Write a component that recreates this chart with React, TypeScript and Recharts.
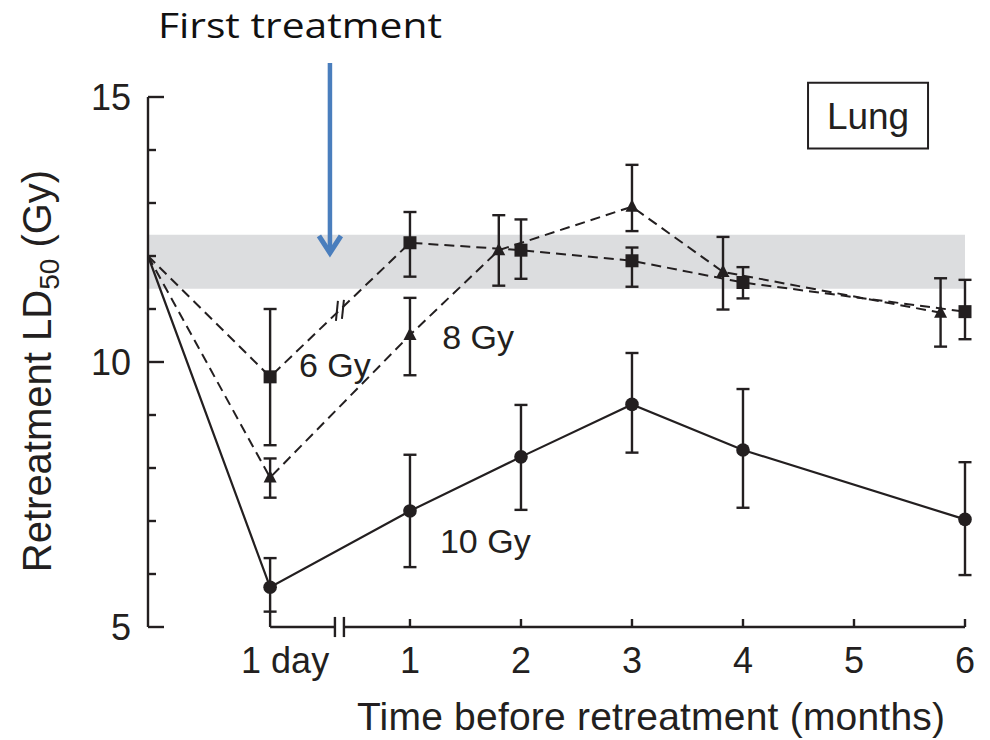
import React from 'react';
import {
  ComposedChart,
  Scatter,
  XAxis,
  YAxis,
  ErrorBar,
  ReferenceArea,
  ReferenceLine,
  ReferenceDot,
} from 'recharts';

// ---- axis positions (months; the axis is broken between "1 day" and month 1) ----
const X_ORIGIN = -1.36; // position of the y axis (time of first treatment)
const X_DAY = -0.26; // "1 day" position
const X_BREAK_A = 0.324; // axis break, left side
const X_BREAK_B = 0.405; // axis break, right side
const X_LINE_BREAK = 0.369; // break marks on the 6 Gy curve
const X_ARROW = 0.279; // "First treatment" arrow

const xTicks = [X_DAY, 1, 2, 3, 4, 5, 6];
const xTickLabels = ['1 day', '1', '2', '3', '4', '5', '6'];
const yTicks = [5, 6, 7, 8, 9, 10, 11, 12, 13, 14, 15];

// ---- 6 Gy (squares, dashed) ----
const gy6X = [X_ORIGIN, X_DAY, 1, 2, 3, 4, 6];
const gy6Y = [12.0, 9.72, 12.25, 12.11, 11.91, 11.5, 10.95];
const gy6Lo = [null, 8.43, 11.61, 11.57, 11.42, 11.2, 10.43];
const gy6Hi = [null, 11.0, 12.83, 12.69, 12.16, 11.79, 11.55];

// ---- 8 Gy (triangles, dashed) ----
const gy8X = [X_ORIGIN, X_DAY, 1, 1.8, 3, 3.82, 5.78];
const gy8Y = [12.0, 7.82, 10.51, 12.11, 12.93, 11.7, 10.93];
const gy8Lo = [null, 7.44, 9.75, 11.44, 12.47, 10.99, 10.29];
const gy8Hi = [null, 8.18, 11.21, 12.77, 13.72, 12.36, 11.58];

// ---- 10 Gy (circles, solid) ----
const gy10X = [X_ORIGIN, X_DAY, 1, 2, 3, 4, 6];
const gy10Y = [12.0, 5.75, 7.19, 8.21, 9.2, 8.34, 7.03];
const gy10Lo = [null, 5.29, 6.13, 7.21, 8.29, 7.25, 5.98];
const gy10Hi = [null, 6.3, 8.25, 9.19, 10.17, 9.49, 8.11];

// ---- shaded band of the untreated LD50 ----
const bandLow = 11.38;
const bandHigh = 12.4;

// ---- annotations ----
const seriesLabels = ['6 Gy', '8 Gy', '10 Gy'];
const seriesLabelX = [0.0, 1.29, 1.27];
const seriesLabelY = [9.72, 10.25, 6.4];
const panelName = 'Lung';
const panelBoxX = [4.586, 5.667];
const panelBoxY = [14.03, 15.27];
const arrowText = 'First treatment';
const arrowTipY = 12.02;

const INK = '#231f20';
const ARROW = '#4a7ebd';
const FONT = '"Liberation Sans", Arial, Helvetica, sans-serif';

type Row = { x: number; y: number; err?: [number, number]; marker: boolean };

function buildRows(xs: number[], ys: number[], lo: (number | null)[], hi: (number | null)[]): Row[] {
  return xs.map((x, i) => {
    const l = lo[i];
    const h = hi[i];
    const row: Row = { x, y: ys[i], marker: l != null };
    if (l != null && h != null) row.err = [ys[i] - l, h - ys[i]];
    return row;
  });
}

const data6 = buildRows(gy6X, gy6Y, gy6Lo, gy6Hi);
const data8 = buildRows(gy8X, gy8Y, gy8Lo, gy8Hi);
const data10 = buildRows(gy10X, gy10Y, gy10Lo, gy10Hi);

// y of the 6 Gy curve where the break marks sit
const lineBreakY =
  gy6Y[1] + ((X_LINE_BREAK - gy6X[1]) / (gy6X[2] - gy6X[1])) * (gy6Y[2] - gy6Y[1]);

const SquareMark = (p: any) =>
  p.payload && p.payload.marker ? (
    <rect x={p.cx - 6.5} y={p.cy - 6.5} width={13} height={13} fill={INK} />
  ) : (
    <g />
  );

const TriangleMark = (p: any) =>
  p.payload && p.payload.marker ? (
    <polygon
      points={`${p.cx},${p.cy - 7.5} ${p.cx - 6.5},${p.cy + 5} ${p.cx + 6.5},${p.cy + 5}`}
      fill={INK}
    />
  ) : (
    <g />
  );

const CircleMark = (p: any) =>
  p.payload && p.payload.marker ? <circle cx={p.cx} cy={p.cy} r={6.8} fill={INK} /> : <g />;

const YTick = (props: any) => {
  const { x, y, payload } = props;
  const v = payload.value as number;
  const major = v % 5 === 0;
  return (
    <g>
      <line x1={x} x2={x + (major ? 16 : 8)} y1={y} y2={y} stroke={INK} strokeWidth={2.4} />
      {major && (
        <text
          x={x - 17}
          y={y}
          dy="0.36em"
          textAnchor="end"
          fontSize={36}
          fill={INK}
          fontFamily={FONT}
        >
          {v}
        </text>
      )}
    </g>
  );
};

const XTick = (props: any) => {
  const { x, y, payload } = props;
  const idx = xTicks.indexOf(payload.value);
  const isDay = payload.value === X_DAY;
  return (
    <g>
      <line x1={x} x2={x} y1={y} y2={y - (isDay ? 16 : 8)} stroke={INK} strokeWidth={2.4} />
      <text
        x={x + (isDay ? 15 : 0)}
        y={y + 46}
        textAnchor="middle"
        fontSize={36}
        fill={INK}
        fontFamily={FONT}
      >
        {idx >= 0 ? xTickLabels[idx] : ''}
      </text>
    </g>
  );
};

const YTitle = (props: any) => {
  const vb = props.viewBox || { x: 0, y: 97, width: 148, height: 530 };
  const cx = vb.x + 51;
  const cy = vb.y + vb.height / 2 + 9;
  return (
    <text
      x={cx}
      y={cy}
      transform={`rotate(-90, ${cx}, ${cy})`}
      textAnchor="middle"
      fontSize={40}
      fill={INK}
      fontFamily={FONT}
    >
      <tspan>Retreatment LD</tspan>
      <tspan fontSize={28} dy={8}>
        50
      </tspan>
      <tspan dy={-8}> (Gy)</tspan>
    </text>
  );
};

const XTitle = (props: any) => {
  const vb = props.viewBox || { x: 148, y: 627, width: 817, height: 113 };
  return (
    <text
      x={vb.x + vb.width - 20}
      y={vb.y + 103}
      textAnchor="end"
      fontSize={39}
      fill={INK}
      fontFamily={FONT}
      textLength={588}
      lengthAdjust="spacing"
    >
      Time before retreatment (months)
    </text>
  );
};

const ArrowMark = (p: any) => {
  const { cx, cy } = p;
  return (
    <g>
      <line x1={cx} y1={cy - 192} x2={cx} y2={cy - 4} stroke={ARROW} strokeWidth={4.5} />
      <polyline
        points={`${cx - 11},${cy - 19} ${cx},${cy - 2} ${cx + 11},${cy - 19}`}
        fill="none"
        stroke={ARROW}
        strokeWidth={5}
      />
      <text
        x={cx - 30}
        y={cy - 217}
        textAnchor="middle"
        fontFamily="'Open Sans', 'Noto Sans', sans-serif"
        fontWeight={400}
        fontSize={34}
        textLength={284}
        lengthAdjust="spacingAndGlyphs"
        fill="#111"
      >
        {arrowText}
      </text>
    </g>
  );
};

const BreakMarks = (p: any) => {
  const { cx, cy } = p;
  return (
    <g stroke={INK} strokeWidth={2}>
      <line x1={cx - 4} y1={cy + 11} x2={cx - 2} y2={cy - 9} />
      <line x1={cx + 2} y1={cy + 9} x2={cx + 4} y2={cy - 10} />
    </g>
  );
};

const makeLabel = (text: string) => (p: any) => (
  <text x={p.cx} y={p.cy} fontSize={34} fill={INK} fontFamily={FONT}>
    {text}
  </text>
);

const dashed = { stroke: INK, strokeWidth: 2, strokeDasharray: '10 6' };
const solid = { stroke: INK, strokeWidth: 2.2 };

export default function App() {
  return (
    <div style={{ position: 'absolute', left: 0, top: 0, width: 990, height: 740, background: '#fff', fontFamily: FONT }}>
      <ComposedChart width={990} height={740} margin={{ top: 97, right: 25, bottom: 0, left: 0 }}>
        <ReferenceArea
          x1={X_ORIGIN}
          x2={6}
          y1={bandLow}
          y2={bandHigh}
          fill="#dcdddf"
          fillOpacity={1}
          stroke="none"
        />
        <XAxis
          type="number"
          dataKey="x"
          domain={[X_ORIGIN, 6]}
          ticks={xTicks}
          interval={0}
          height={113}
          axisLine={false}
          tickLine={false}
          tickSize={0}
          tickMargin={0}
          tick={<XTick />}
          label={(props: any) => <XTitle {...props} />}
        />
        <YAxis
          type="number"
          dataKey="y"
          domain={[5, 15]}
          ticks={yTicks}
          interval={0}
          width={148}
          axisLine={{ stroke: INK, strokeWidth: 2.4 }}
          tickLine={false}
          tickSize={0}
          tickMargin={0}
          tick={<YTick />}
          label={(props: any) => <YTitle {...props} />}
        />

        {/* broken x axis */}
        <ReferenceLine
          segment={[{ x: X_DAY, y: 5 }, { x: X_BREAK_A, y: 5 }]}
          stroke={INK}
          strokeWidth={2.4}
          ifOverflow="visible"
        />
        <ReferenceLine
          segment={[{ x: X_BREAK_B, y: 5 }, { x: 6, y: 5 }]}
          stroke={INK}
          strokeWidth={2.4}
          ifOverflow="visible"
        />
        <ReferenceLine
          segment={[{ x: X_BREAK_A, y: 4.81 }, { x: X_BREAK_A, y: 5.19 }]}
          stroke={INK}
          strokeWidth={2.4}
          ifOverflow="visible"
        />
        <ReferenceLine
          segment={[{ x: X_BREAK_B, y: 4.81 }, { x: X_BREAK_B, y: 5.19 }]}
          stroke={INK}
          strokeWidth={2.4}
          ifOverflow="visible"
        />

        <Scatter
          data={data10}
          dataKey="y"
          line={solid}
          lineType="joint"
          shape={CircleMark}
          isAnimationActive={false}
        >
          <ErrorBar dataKey="err" direction="y" width={6.5} strokeWidth={2.4} stroke={INK} />
        </Scatter>
        <Scatter
          data={data8}
          dataKey="y"
          line={dashed}
          lineType="joint"
          shape={TriangleMark}
          isAnimationActive={false}
        >
          <ErrorBar dataKey="err" direction="y" width={6.5} strokeWidth={2.4} stroke={INK} />
        </Scatter>
        <Scatter
          data={data6}
          dataKey="y"
          line={dashed}
          lineType="joint"
          shape={SquareMark}
          isAnimationActive={false}
        >
          <ErrorBar dataKey="err" direction="y" width={6.5} strokeWidth={2.4} stroke={INK} />
        </Scatter>

        <ReferenceDot x={X_LINE_BREAK} y={lineBreakY} shape={BreakMarks} ifOverflow="visible" />

        {seriesLabels.map((t, i) => (
          <ReferenceDot
            key={t}
            x={seriesLabelX[i]}
            y={seriesLabelY[i]}
            shape={makeLabel(t)}
            ifOverflow="visible"
          />
        ))}

        <ReferenceArea
          x1={panelBoxX[0]}
          x2={panelBoxX[1]}
          y1={panelBoxY[0]}
          y2={panelBoxY[1]}
          fill="#fff"
          fillOpacity={1}
          stroke={INK}
          strokeWidth={2}
          ifOverflow="visible"
          label={{ value: panelName, position: 'center', fontSize: 37, fill: INK, fontFamily: FONT }}
        />

        <ReferenceDot x={X_ARROW} y={arrowTipY} shape={ArrowMark} ifOverflow="visible" />
      </ComposedChart>
    </div>
  );
}
